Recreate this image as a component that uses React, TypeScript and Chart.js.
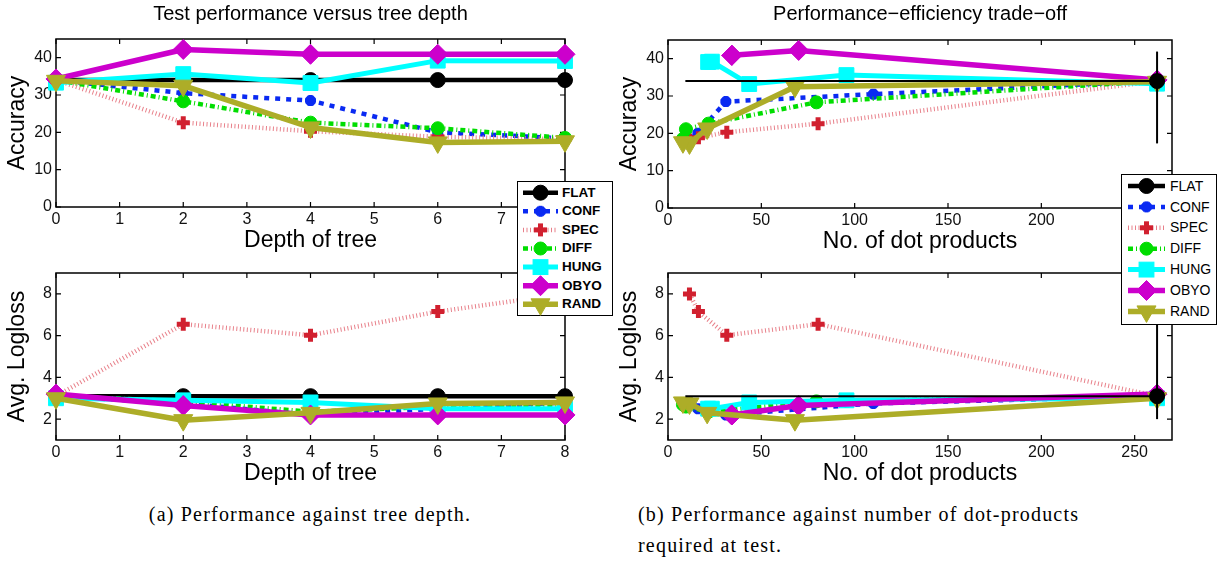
import React, { useEffect, useRef } from 'react';
import { Chart, registerables } from 'chart.js';

Chart.register(...registerables);

// ---------------- data ----------------
const methodNames = ['FLAT', 'CONF', 'SPEC', 'DIFF', 'HUNG', 'OBYO', 'RAND'];
const depths = [0, 2, 4, 6, 8];

const depthTicks = [0, 1, 2, 3, 4, 5, 6, 7, 8];
const dotTicks = [0, 50, 100, 150, 200, 250];
const accTicks = [0, 10, 20, 30, 40];
const llTicks = [2, 4, 6, 8];

// accuracy per depth (0,2,4,6,8)
const accFLAT = [34, 34, 34, 34, 34];
const accCONF = [34, 30.5, 28.5, 20.0, 18.4];
const accSPEC = [34, 22.6, 20.3, 18.8, 18.2];
const accDIFF = [34, 28.3, 22.6, 21.1, 18.5];
const accHUNG = [33.3, 35.6, 33.2, 39.2, 39.1];
const accOBYO = [34.3, 42.2, 40.9, 40.9, 40.9];
const accRAND = [33.8, 32.5, 21.3, 17.3, 17.6];

// average logloss per depth (0,2,4,6,8)
const llFLAT = [3.1, 3.1, 3.1, 3.1, 3.1];
const llCONF = [3.1, 2.75, 2.2, 2.5, 2.8];
const llSPEC = [3.1, 6.55, 6.02, 7.15, 8.0];
const llDIFF = [3.1, 2.85, 2.35, 2.6, 2.7];
const llHUNG = [3.0, 2.9, 2.8, 2.5, 2.5];
const llOBYO = [3.2, 2.65, 2.2, 2.2, 2.2];
const llRAND = [3.0, 1.95, 2.3, 2.75, 2.8];

// number of dot products per depth (0,2,4,6,8)
const dotsFLAT = [262];
const dotsCONF = [262, 110, 31, 16, 11.5];
const dotsSPEC = [262, 80.4, 31.5, 16.3, 11.5];
const dotsDIFF = [262, 79.5, 21.7, 9.6, 8];
const dotsHUNG = [262, 95.6, 43.5, 23.5, 21.5];
const dotsOBYO = [262, 70, 34.2, 34.2, 34.2];
const dotsRAND = [262, 68, 21, 11.5, 8];

const flatRefX = [9.3, 262];
const flatErrAcc = [17.3, 41.9];
const flatErrLL = [2.0, 7.5];

// ---------------- styles ----------------
const FONT = "'Liberation Sans', Arial, Helvetica, sans-serif";

type Sty = { color: string; line: string; width: number; dash: number[]; point: string; r: number; pb: number; rot: number };
const styles: Record<string, Sty> = {
  FLAT: { color: '#000000', line: '#000000', width: 4.5, dash: [], point: 'circle', r: 7.5, pb: 1, rot: 0 },
  CONF: { color: '#0a2af2', line: '#0a2af2', width: 4.5, dash: [5, 6], point: 'star', r: 5.5, pb: 4, rot: 0 },
  SPEC: { color: '#d1202f', line: '#e8808a', width: 4.5, dash: [1, 2.5], point: 'cross', r: 6.5, pb: 5, rot: 0 },
  DIFF: { color: '#00dd00', line: '#00dd00', width: 4.5, dash: [5, 3, 1, 3], point: 'circle', r: 6.5, pb: 1, rot: 0 },
  HUNG: { color: '#00ffff', line: '#00ffff', width: 5, dash: [], point: 'rect', r: 10.5, pb: 1, rot: 0 },
  OBYO: { color: '#cc00cc', line: '#cc00cc', width: 5.5, dash: [], point: 'rectRot', r: 10, pb: 1, rot: 0 },
  RAND: { color: '#adad28', line: '#adad28', width: 5.5, dash: [], point: 'triangle', r: 11, pb: 1, rot: 180 },
};

const accBy: Record<string, number[]> = { FLAT: accFLAT, CONF: accCONF, SPEC: accSPEC, DIFF: accDIFF, HUNG: accHUNG, OBYO: accOBYO, RAND: accRAND };
const llBy: Record<string, number[]> = { FLAT: llFLAT, CONF: llCONF, SPEC: llSPEC, DIFF: llDIFF, HUNG: llHUNG, OBYO: llOBYO, RAND: llRAND };
const dotsBy: Record<string, number[]> = { FLAT: dotsFLAT, CONF: dotsCONF, SPEC: dotsSPEC, DIFF: dotsDIFF, HUNG: dotsHUNG, OBYO: dotsOBYO, RAND: dotsRAND };

function makeDs(name: string, pts: { x: number; y: number }[], order: number, extra: any = {}) {
  const s = styles[name];
  return {
    label: name,
    data: pts,
    borderColor: s.line,
    backgroundColor: s.color,
    borderWidth: s.width,
    borderDash: s.dash,
    borderCapStyle: 'butt',
    borderJoinStyle: 'round',
    pointStyle: s.point,
    pointRadius: s.r,
    pointBorderWidth: s.pb,
    pointBorderColor: s.color,
    pointBackgroundColor: s.color,
    pointRotation: s.rot,
    tension: 0,
    fill: false,
    clip: false,
    order,
    ...extra,
  };
}

function leftDatasets(values: Record<string, number[]>) {
  return methodNames.map((n, i) =>
    makeDs(n, depths.map((d, k) => ({ x: d, y: values[n][k] })), 6 - i)
  );
}

function rightDatasets(values: Record<string, number[]>) {
  const out: any[] = [];
  methodNames.forEach((n, i) => {
    const xs = dotsBy[n];
    const pts = xs.map((x, k) => ({ x, y: values[n][k] }));
    if (n === 'FLAT') {
      out.push(makeDs(n, pts, -1, { showLine: false }));
    } else {
      out.push(makeDs(n, pts, 6 - i));
    }
  });
  out.push({
    label: 'FLATref',
    data: flatRefX.map((x) => ({ x, y: values.FLAT[0] })),
    borderColor: '#000',
    borderWidth: 2,
    pointRadius: 0,
    fill: false,
    clip: false,
    order: -2,
  });
  return out;
}

// ---------------- plugins ----------------
const boxPlugin = {
  id: 'matlabBox',
  beforeDatasetsDraw(chart: any) {
    const { ctx, chartArea: a, scales } = chart;
    ctx.save();
    ctx.strokeStyle = '#000';
    ctx.lineWidth = 1.5;
    ctx.strokeRect(a.left, a.top, a.right - a.left, a.bottom - a.top);
    ctx.lineWidth = 1.2;
    const tl = 5;
    ctx.beginPath();
    scales.x.ticks.forEach((t: any) => {
      const px = scales.x.getPixelForValue(t.value);
      ctx.moveTo(px, a.bottom);
      ctx.lineTo(px, a.bottom - tl);
      ctx.moveTo(px, a.top);
      ctx.lineTo(px, a.top + tl);
    });
    scales.y.ticks.forEach((t: any) => {
      const py = scales.y.getPixelForValue(t.value);
      ctx.moveTo(a.left, py);
      ctx.lineTo(a.left + tl, py);
      ctx.moveTo(a.right, py);
      ctx.lineTo(a.right - tl, py);
    });
    ctx.stroke();
    ctx.restore();
  },
};

function errPlugin(x: number, lohi: number[]) {
  return {
    id: 'errbar',
    afterDatasetsDraw(chart: any) {
      const { ctx, scales } = chart;
      const px = scales.x.getPixelForValue(x);
      ctx.save();
      ctx.strokeStyle = '#000';
      ctx.lineWidth = 2;
      ctx.beginPath();
      ctx.moveTo(px, scales.y.getPixelForValue(lohi[0]));
      ctx.lineTo(px, scales.y.getPixelForValue(lohi[1]));
      ctx.stroke();
      ctx.restore();
    },
  };
}

// ---------------- panel ----------------
type PanelCfg = {
  left: number; top: number; w: number; h: number; padTop: number;
  title?: string; titlePadBottom?: number;
  xMin: number; xMax: number; xTicks: number[]; xTitle: string;
  yMin: number; yMax: number; yTicks: number[]; yTitle: string;
  datasets: any[]; err?: { x: number; lohi: number[] };
};

function Panel({ cfg }: { cfg: PanelCfg }) {
  const ref = useRef<HTMLCanvasElement>(null);
  useEffect(() => {
    const plugins: any[] = [boxPlugin];
    if (cfg.err) plugins.push(errPlugin(cfg.err.x, cfg.err.lohi));
    const chart = new Chart(ref.current as HTMLCanvasElement, {
      type: 'line',
      data: { datasets: cfg.datasets },
      plugins,
      options: {
        animation: false,
        responsive: false,
        devicePixelRatio: 1,
        events: [],
        layout: { padding: { top: cfg.padTop, right: 20, bottom: 0, left: 0 } },
        plugins: {
          legend: { display: false },
          tooltip: { enabled: false },
          title: {
            display: !!cfg.title,
            text: cfg.title || '',
            fullSize: false,
            color: '#000',
            font: { family: FONT, size: 20, weight: 'normal', lineHeight: 1.2 },
            padding: { top: 2, bottom: cfg.titlePadBottom || 13 },
          },
        },
        scales: {
          x: {
            type: 'linear',
            min: cfg.xMin,
            max: cfg.xMax,
            afterBuildTicks: (s: any) => { s.ticks = cfg.xTicks.map((v) => ({ value: v })); },
            afterFit: (s: any) => { s.height = 48; },
            grid: { display: false, drawTicks: false },
            border: { display: false },
            ticks: { autoSkip: false, maxRotation: 0, padding: 3, color: '#111', font: { family: FONT, size: 16 } },
            title: { display: true, text: cfg.xTitle, color: '#000', font: { family: FONT, size: 23, lineHeight: 1.2 }, padding: { top: 0, bottom: 0.2 } },
          },
          y: {
            type: 'linear',
            min: cfg.yMin,
            max: cfg.yMax,
            afterBuildTicks: (s: any) => { s.ticks = cfg.yTicks.map((v) => ({ value: v })); },
            afterFit: (s: any) => { s.width = 56; },
            grid: { display: false, drawTicks: false },
            border: { display: false },
            ticks: { autoSkip: false, padding: 4, color: '#111', font: { family: FONT, size: 16 } },
            title: { display: true, text: cfg.yTitle, color: '#000', font: { family: FONT, size: 23, lineHeight: 1.2 }, padding: { top: 3.9, bottom: 0 } },
          },
        },
      } as any,
    });
    return () => chart.destroy();
  }, []);
  return (
    <canvas
      ref={ref}
      width={cfg.w}
      height={cfg.h}
      style={{ position: 'absolute', left: cfg.left, top: cfg.top, width: cfg.w, height: cfg.h }}
    />
  );
}

// ---------------- legend ----------------
function Marker({ s, cx, cy }: { s: Sty; cx: number; cy: number }) {
  const r = s.r;
  if (s.point === 'circle') return <circle cx={cx} cy={cy} r={r} fill={s.color} stroke={s.color} strokeWidth={s.pb} />;
  if (s.point === 'star' || s.point === 'cross') {
    const angs = s.point === 'star' ? [0, 45, 90, 135] : [0, 90];
    return (
      <g stroke={s.color} strokeWidth={s.pb}>
        {angs.map((a) => {
          const rad = (a * Math.PI) / 180;
          const dx = Math.cos(rad) * r, dy = Math.sin(rad) * r;
          return <line key={a} x1={cx - dx} y1={cy - dy} x2={cx + dx} y2={cy + dy} />;
        })}
      </g>
    );
  }
  if (s.point === 'rect') {
    const h = r * Math.SQRT1_2;
    return <rect x={cx - h} y={cy - h} width={2 * h} height={2 * h} fill={s.color} stroke={s.color} strokeWidth={s.pb} />;
  }
  if (s.point === 'rectRot') {
    const p = `${cx},${cy - r} ${cx + r},${cy} ${cx},${cy + r} ${cx - r},${cy}`;
    return <polygon points={p} fill={s.color} stroke={s.color} strokeWidth={s.pb} />;
  }
  const pts: string[] = [];
  let rad = (s.rot * Math.PI) / 180;
  for (let i = 0; i < 3; i++) {
    pts.push(`${cx + Math.sin(rad) * r},${cy - Math.cos(rad) * r}`);
    rad += (2 * Math.PI) / 3;
  }
  return <polygon points={pts.join(' ')} fill={s.color} stroke={s.color} strokeWidth={s.pb} />;
}

function Legend(p: { left: number; top: number; w: number; h: number; y0: number; dy: number; lx0: number; lx1: number; tx: number; bold: boolean; fs: number }) {
  return (
    <div style={{ position: 'absolute', left: p.left, top: p.top, width: p.w, height: p.h, background: '#fff', border: '1px solid #000', boxSizing: 'border-box', zIndex: 5 }}>
      <svg width={p.w} height={p.h} style={{ position: 'absolute', left: -1, top: -1 }}>
        {methodNames.map((n, i) => {
          const s = styles[n];
          const y = p.y0 + i * p.dy;
          return (
            <g key={n}>
              <line x1={p.lx0} y1={y} x2={p.lx1} y2={y} stroke={s.line} strokeWidth={s.width} strokeDasharray={s.dash.length ? s.dash.join(' ') : undefined} />
              <Marker s={s} cx={(p.lx0 + p.lx1) / 2} cy={y} />
            </g>
          );
        })}
      </svg>
      {methodNames.map((n, i) => (
        <div key={n} style={{ position: 'absolute', left: p.tx - 1, top: p.y0 + i * p.dy - 1 - p.fs * 0.6, height: p.fs * 1.2, lineHeight: `${p.fs * 1.2}px`, fontFamily: FONT, fontSize: p.fs, fontWeight: p.bold ? 'bold' : 'normal', color: '#000', whiteSpace: 'nowrap' }}>
          {n}
        </div>
      ))}
    </div>
  );
}

// ---------------- app ----------------
export default function App() {
  const accL: PanelCfg = {
    left: 0, top: 0, w: 585, h: 255, padTop: 0, title: 'Test performance versus tree depth', titlePadBottom: 13,
    xMin: 0, xMax: 8, xTicks: depthTicks, xTitle: 'Depth of tree',
    yMin: 0, yMax: 45, yTicks: accTicks, yTitle: 'Accuracy',
    datasets: leftDatasets(accBy),
  };
  const llL: PanelCfg = {
    left: 0, top: 253, w: 585, h: 235, padTop: 20,
    xMin: 0, xMax: 8, xTicks: depthTicks, xTitle: 'Depth of tree',
    yMin: 1, yMax: 9, yTicks: llTicks, yTitle: 'Avg. Logloss',
    datasets: leftDatasets(llBy),
  };
  const accR: PanelCfg = {
    left: 612, top: 0, w: 580, h: 256, padTop: 0, title: 'Performance\u2212efficiency trade\u2212off', titlePadBottom: 14,
    xMin: 0, xMax: 270, xTicks: dotTicks, xTitle: 'No. of dot products',
    yMin: 0, yMax: 45, yTicks: accTicks, yTitle: 'Accuracy',
    datasets: rightDatasets(accBy), err: { x: dotsFLAT[0], lohi: flatErrAcc },
  };
  const llR: PanelCfg = {
    left: 612, top: 253, w: 580, h: 235, padTop: 20,
    xMin: 0, xMax: 270, xTicks: dotTicks, xTitle: 'No. of dot products',
    yMin: 1, yMax: 9, yTicks: llTicks, yTitle: 'Avg. Logloss',
    datasets: rightDatasets(llBy), err: { x: dotsFLAT[0], lohi: flatErrLL },
  };
  const capStyle: React.CSSProperties = { position: 'absolute', fontFamily: "'Liberation Serif', 'Times New Roman', serif", fontSize: 20, letterSpacing: '1.2px', color: '#000', lineHeight: '31px', whiteSpace: 'nowrap' };
  return (
    <div style={{ position: 'absolute', left: 0, top: 0, width: 1221, height: 563, background: '#fff', overflow: 'hidden' }}>
      <Panel cfg={accL} />
      <Panel cfg={llL} />
      <Panel cfg={accR} />
      <Panel cfg={llR} />
      <Legend left={517} top={181} w={96} h={135} y0={11.7} dy={18.6} lx0={6} lx1={41} tx={45} bold={true} fs={13.5} />
      <Legend left={1121} top={174} w={96} h={151} y0={12} dy={20.9} lx0={7} lx1={44} tx={49} bold={false} fs={14} />
      <div style={{ ...capStyle, left: 0, width: 620, top: 499, textAlign: 'center' }}>(a) Performance against tree depth.</div>
      <div style={{ ...capStyle, left: 638, top: 499 }}>
        (b) Performance against number of dot-products
        <br />
        required at test.
      </div>
    </div>
  );
}
